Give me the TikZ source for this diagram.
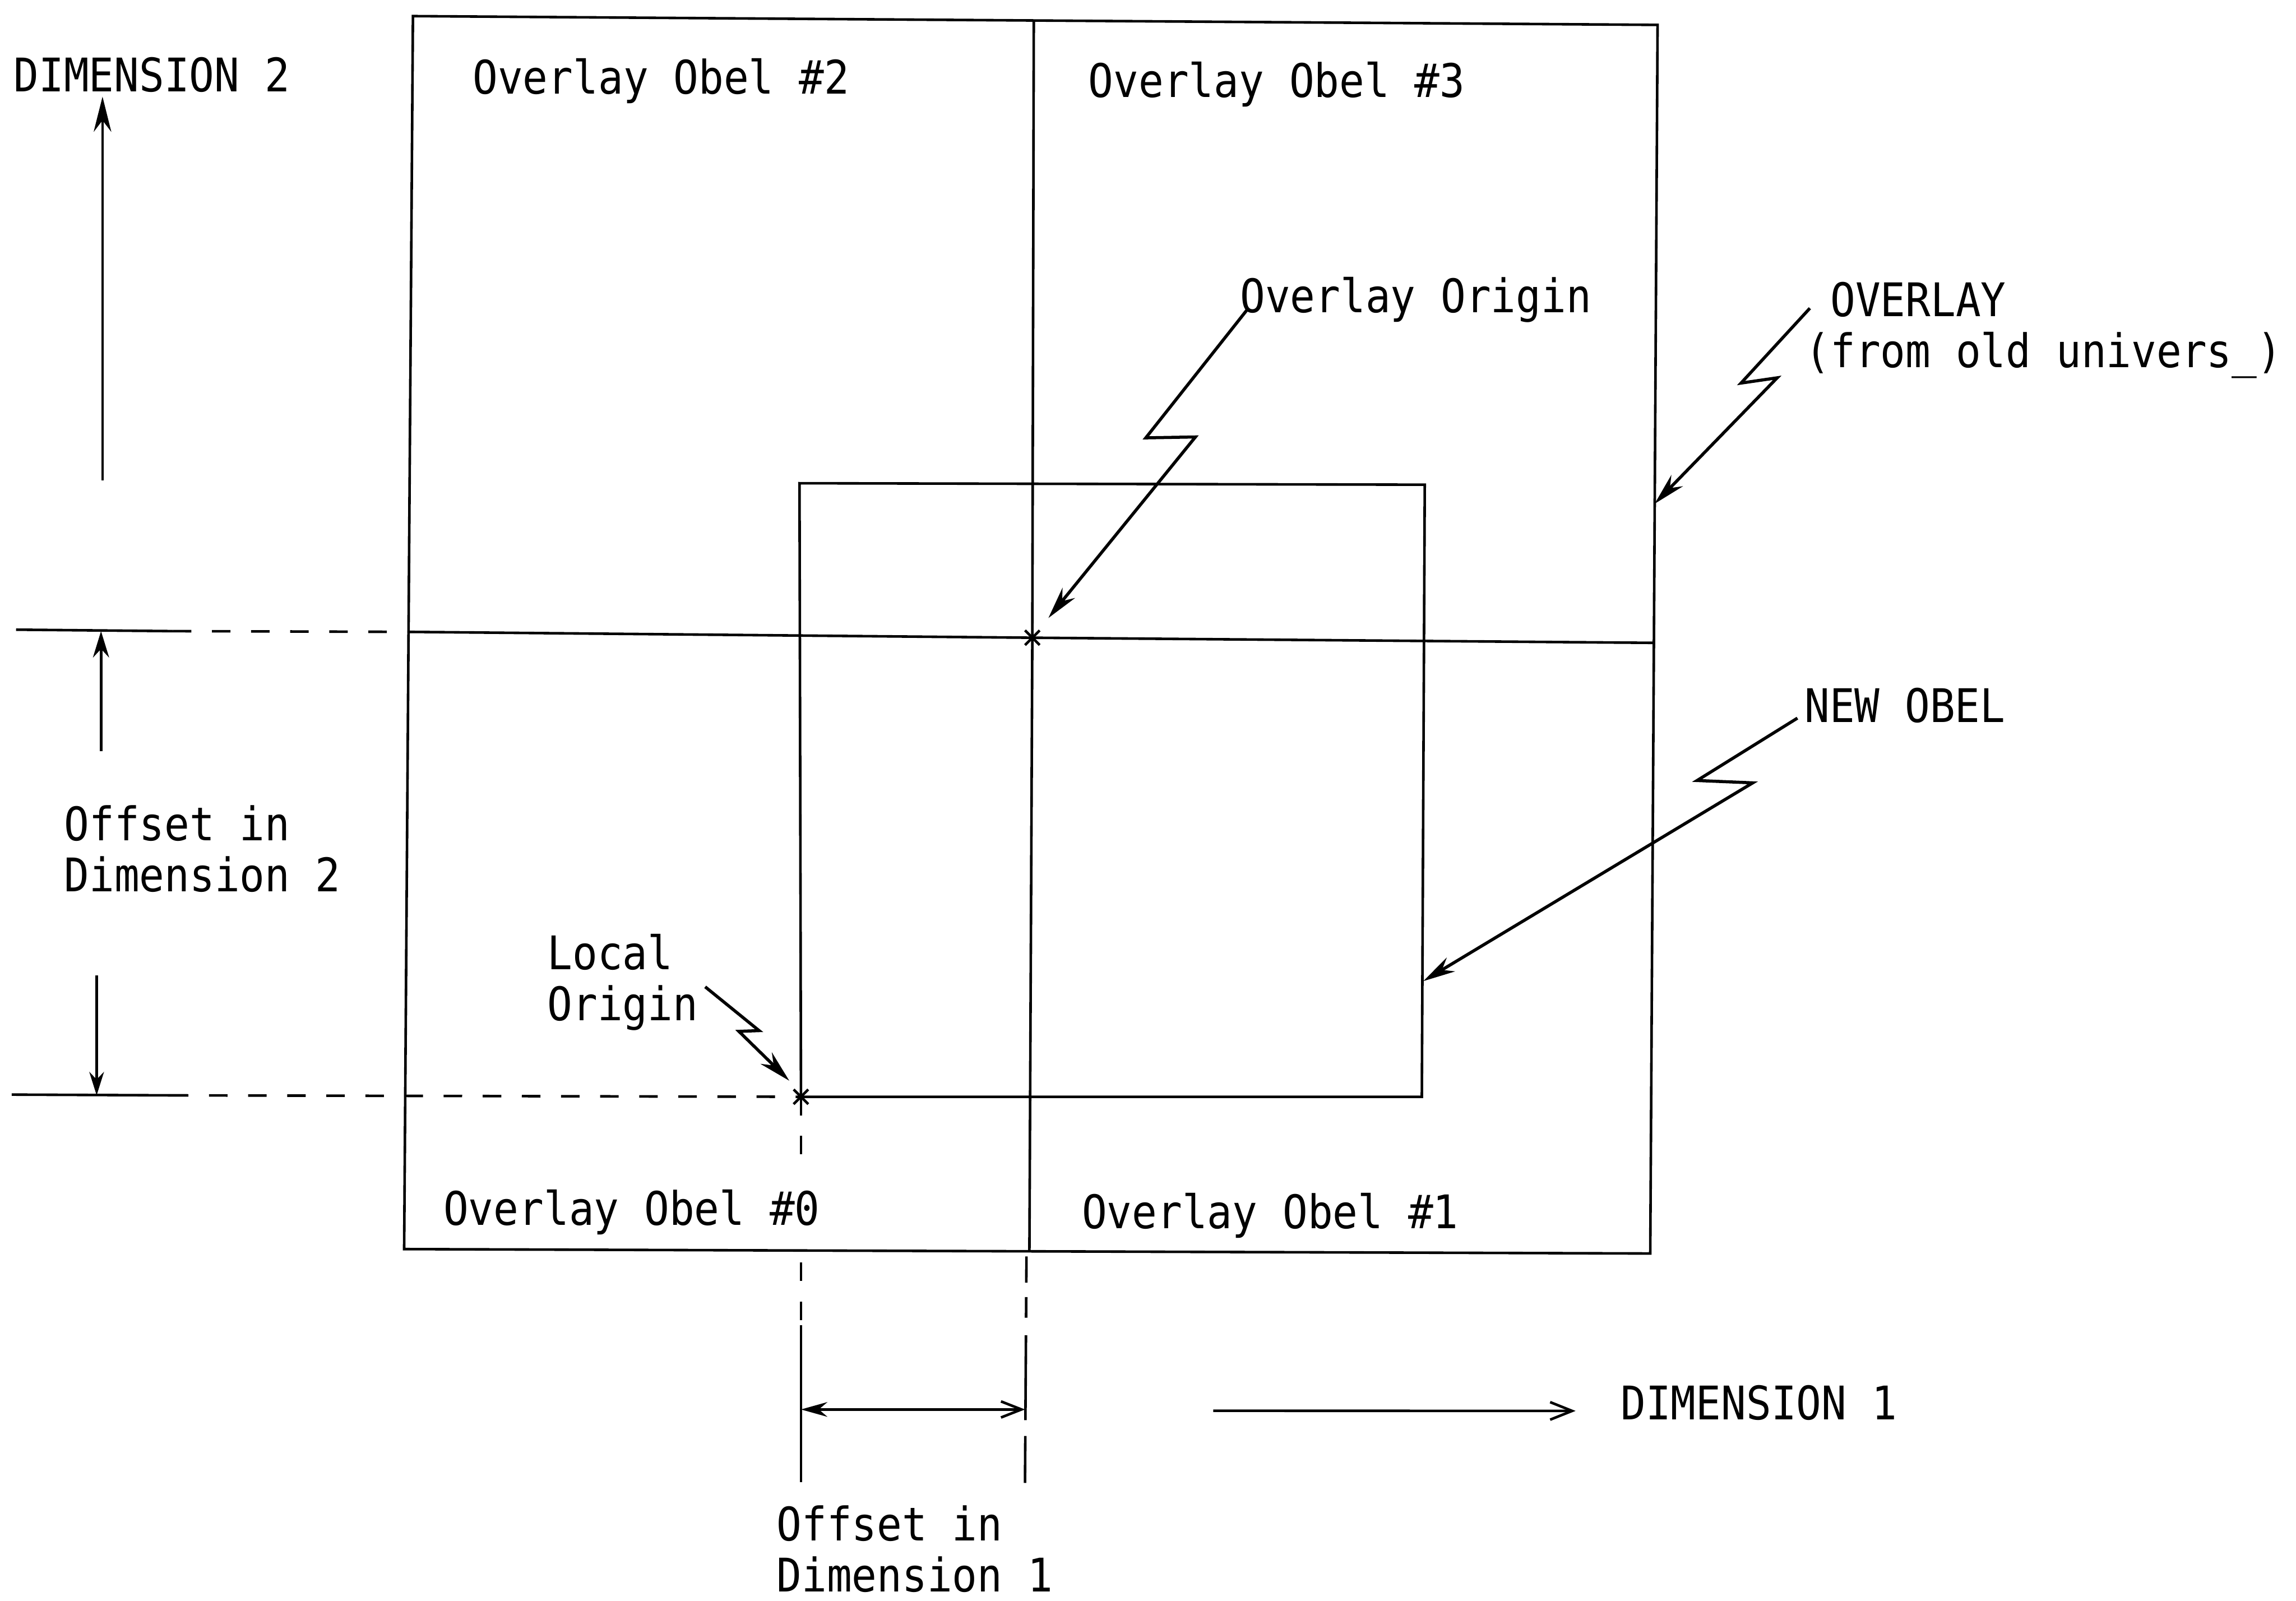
\documentclass[tikz,border=0pt]{standalone}
\usepackage{fontspec}
\setmonofont[FakeStretch=0.9]{DejaVu Sans Mono}
\usetikzlibrary{arrows.meta, calc}

\begin{document}
\begin{tikzpicture}[x=0.1mm, y=-0.1mm, line width=0.5pt,
    lbl/.style={font=\ttfamily\fontsize{9}{9.9}\selectfont, inner sep=0pt, anchor=base west, align=left},
    guide/.style={dash pattern=on 3.6pt off 4pt},
    bolt/.style={line width=0.6pt, -{Stealth[length=2.2mm, width=1.1mm]}},
    dimarrow/.style={-{Stealth[length=2.4mm, width=1.2mm]}},
    openarrow/.style={-{Straight Barb[length=1.5mm, width=1.2mm]}}]
            \useasboundingbox (0,0) rectangle (1568,1093);
            \coordinate (ovNW) at (282,11);
            \coordinate (ovNE) at (1132,17);
            \coordinate (ovSE) at (1127,856);
            \coordinate (ovSW) at (276,853);
            \coordinate (ovo) at (705,435.5);
            \coordinate (ovE) at (1130,344);
            \coordinate (noNW) at (546,330);
            \coordinate (noNE) at (973,331);
            \coordinate (noSE) at (971,749);
            \coordinate (loo) at (547,749);
            \coordinate (noE) at (972,670);
            \draw (ovNW) -- (ovNE) -- (ovSE) -- (ovSW) -- cycle;
            \draw (706,14) -- (ovo) -- (703,855);
            \draw (279,431.5) -- (ovo) -- (1129,439);
            \draw (noNW) -- (noNE) -- (noSE) -- (loo) -- cycle;
            \draw (ovo) ++(-5,-5) -- ++(10,10) ++(0,-10) -- ++(-10,10);
            \draw (loo) ++(-5,-5) -- ++(10,10) ++(0,-10) -- ++(-10,10);

            \draw (11,430) -- (118,431);
            \draw[guide] (118,431) -- (279,431.5);
            \draw (8,747.5) -- (116,748);
            \draw[guide] (116,748) -- (loo);
            \draw[guide] (loo) -- (547,800);
            \draw[guide] (547,862) -- (547,903);
            \draw (547,905) -- (547,1012);
            \draw[dash pattern=on 5.1pt off 2.8pt on 4pt off 3.4pt on 16.5pt off 3.1pt on 9.1pt off 5pt] (701,858) -- (700,1013);

            \node[lbl] (dimtwo) at (8.5,62.4) {DIMENSION 2};
            \node[lbl] (obeltwo) at (322,64) {Overlay Obel \#2};
            \node[lbl] (obelthree) at (742.5,66.5) {Overlay Obel \#3};
            \node[lbl] (obelzero) at (302,836.5) {Overlay Obel \#0};
            \node[lbl] (obelone) at (738,839) {Overlay Obel \#1};
            \node[lbl] (ovorigin) at (846,213.5) {Overlay Origin};
            \node[lbl] (overlay) at (1232,251) {\ OVERLAY\\(from old univers\_)};
            \node[lbl] (newobel) at (1231.5,493.4) {NEW OBEL};
            \node[lbl] (offtwo) at (43,609) {Offset in\\Dimension 2};
            \node[lbl] (locorigin) at (373,697) {Local\\Origin};
            \node[lbl] (offone) at (529.5,1087) {Offset in\\Dimension 1};
            \node[lbl] (dimone) at (1106,969.5) {DIMENSION 1};

            \draw[dimarrow] (70,328) -- (70,66);
            \draw[-{Stealth[length=1.8mm, width=1.1mm]}] (69,513) -- (69,431);
            \draw[-{Stealth[length=1.6mm, width=1mm]}] (66,666) -- (66,748);
            \draw[{Stealth[length=1.8mm, width=1mm]}-{Straight Barb[length=1.4mm, width=1.1mm]}] (547,962.5) -- (700,962.5);
            \draw[openarrow] (828.5,963.4) -- ([shift={(-30,-6)}]dimone.base west);

            \draw[bolt] ([shift={(5.7,-2)}]ovorigin.base west) -- (782.5,299) -- (816.4,298.4) -- ([shift={(11,-13.5)}]ovo);
            \draw[bolt] ([shift={(4,-40.5)}]overlay.base west) -- (1189,261.6) -- (1213.7,258) -- (ovE);
            \draw[bolt] ([shift={(-4,-3)}]newobel.base west) -- (1159,533) -- (1197,534.6) -- (noE);
            \draw[bolt] ([shift={(4,3)}]locorigin.east) -- (518.4,703.8) -- (504.6,704.3) -- ([shift={(-8,-11)}]loo);
\end{tikzpicture}
\end{document}
